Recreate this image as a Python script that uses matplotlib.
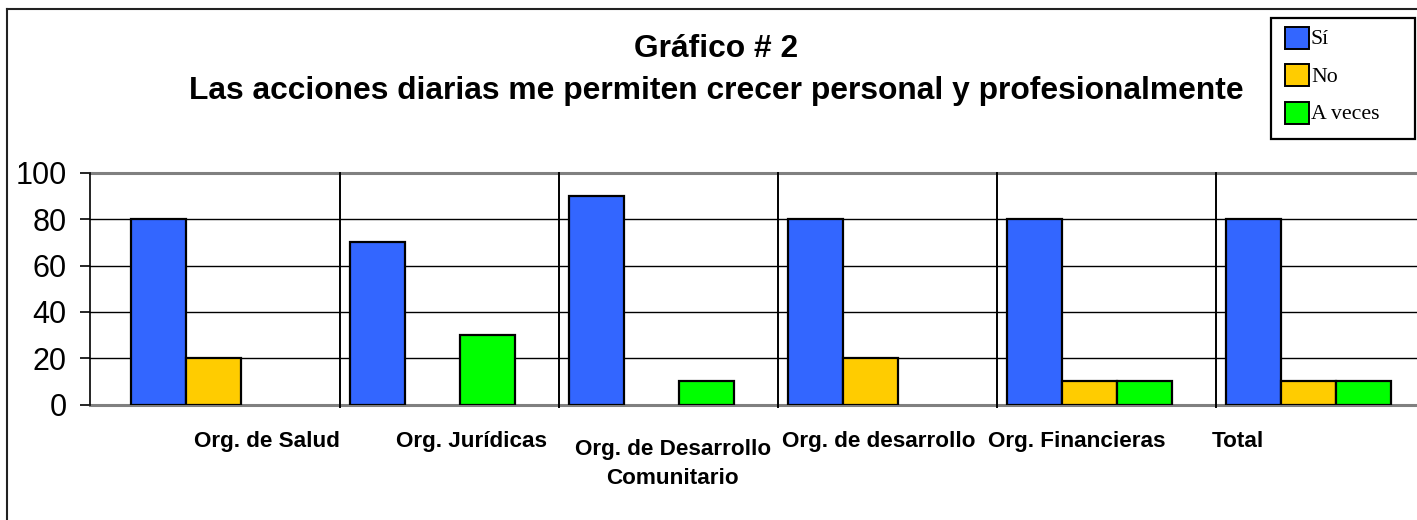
import matplotlib
matplotlib.use("Agg")
import matplotlib.pyplot as plt
import numpy as np
from matplotlib.lines import Line2D
from matplotlib.patches import Rectangle

plt.rcParams["font.family"] = ["Liberation Sans", "DejaVu Sans"]

categories = [
    "Org. de Salud",
    "Org. Jurídicas",
    "Org. de Desarrollo\nComunitario",
    "Org. de desarrollo",
    "Org. Financieras",
    "Total",
]
si = [80, 70, 90, 80, 80, 80]
no = [20, 0, 0, 20, 10, 10]
a_veces = [0, 30, 10, 0, 10, 10]
series_names = ["Sí", "No", "A veces"]
y_ticks = [0, 20, 40, 60, 80, 100]

colors = ["#3366FF", "#FFCC00", "#00FF00"]

# layout (pixels of a 1417x520 canvas)
W, H = 1417, 520
cat_px = 218.9
x0_px = 121
bar_w = 55 / cat_px
bar_off = 10 / cat_px
label_x = [0.667, 1.599, 2.52, 3.463, 4.367, 5.103]
label_top = [-11.5, -11.5, -15.0, -11.5, -11.5, -11.5]

fig = plt.figure(figsize=(W / 100, H / 100), dpi=100)
ax = fig.add_axes([90 / W, 1 - 404.5 / H, (W - 90) / W, (404.5 - 173) / H])

x = np.arange(len(categories))
for k, vals in enumerate([si, no, a_veces]):
    bars = ax.bar(x + bar_off + k * bar_w, vals, bar_w, align="edge",
                  color=colors[k], edgecolor="black", linewidth=1.6, zorder=3)
    for b, v in zip(bars, vals):
        if v == 0:
            b.set_visible(False)

ax.set_xlim((90 - x0_px) / cat_px, (W - x0_px) / cat_px)
ax.set_ylim(0, 100)

# gridlines
for t in y_ticks:
    if t in (0, 100):
        ax.axhline(t, color="#808080", lw=2.2, zorder=2, clip_on=False)
    else:
        ax.axhline(t, color="black", lw=1.0, zorder=1)

# category separators
for i in range(1, len(categories)):
    ax.plot([i, i], [-1.2, 100], color="black", lw=1.4, zorder=2, clip_on=False)

for s in ["top", "right", "bottom"]:
    ax.spines[s].set_visible(False)
ax.spines["left"].set_linewidth(1.2)
ax.spines["left"].set_zorder(4)

ax.set_yticks(y_ticks)
ax.set_yticklabels([str(t) for t in y_ticks], fontsize=22)
ax.tick_params(axis="y", length=7, width=1.2, pad=10)
ax.set_xticks([])

for lx, ly, lab in zip(label_x, label_top, categories):
    ax.text(lx, ly, lab, ha="center", va="top", fontsize=16.2,
            fontweight="bold", linespacing=1.5)

fig.text(716 / W, 1 - 57 / H, "Gráfico # 2", ha="center", va="baseline",
         fontsize=22.9, fontweight="bold")
fig.text(716 / W, 1 - 99 / H,
         "Las acciones diarias me permiten crecer personal y profesionalmente",
         ha="center", va="baseline", fontsize=22.9, fontweight="bold")

# legend box drawn by hand to match the original spacing
fig.add_artist(Rectangle((1271 / W, 1 - 139 / H), 144 / W, 121 / H,
                         transform=fig.transFigure, facecolor="white",
                         edgecolor="black", lw=1.6))
for k, (name, c) in enumerate(zip(series_names, colors)):
    yc = 38 + k * 37.3
    fig.add_artist(Rectangle((1285 / W, 1 - (yc + 11) / H), 24 / W, 22 / H,
                             transform=fig.transFigure, facecolor=c,
                             edgecolor="black", lw=1.4))
    fig.text(1311 / W, 1 - (yc + 2) / H, name, ha="left", va="center",
             family="Liberation Serif", fontsize=15.7)

# outer border of the chart area
fig.add_artist(Line2D([7 / W, 7 / W], [0, 1 - 9 / H], color="#222222", lw=1.5))
fig.add_artist(Line2D([7 / W, 1], [1 - 9 / H, 1 - 9 / H], color="#222222", lw=1.5))

fig.savefig("out.png", dpi=100)
